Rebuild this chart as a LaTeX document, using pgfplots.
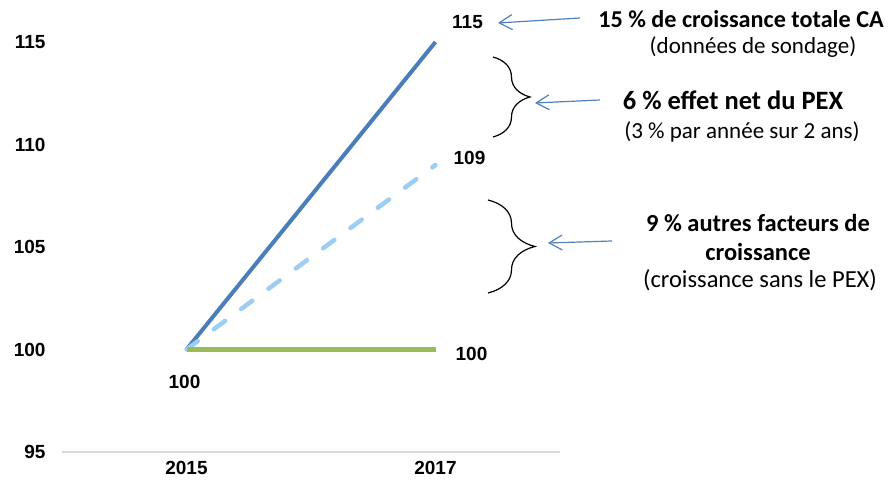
\documentclass[border=0pt]{standalone}
\usepackage{pgfplots}
\pgfplotsset{compat=1.18}
\usepackage{fontspec}
\setmainfont{Liberation Sans}
\newfontfamily\calib{Carlito}
\usetikzlibrary{arrows.meta,decorations.pathreplacing}
\definecolor{cblue}{HTML}{4A7EBB}
\definecolor{clight}{HTML}{9DCDF2}
\definecolor{cgreen}{HTML}{9BBB59}
\definecolor{carrow}{HTML}{4F81BD}
\definecolor{caxis}{HTML}{D9D9D9}
\begin{document}
\begin{tikzpicture}[x=1pt,y=1pt]
\path[use as bounding box] (0,0) rectangle (889,486);
\begin{axis}[
  at={(62pt,34pt)}, anchor=south west,
  scale only axis, width=498pt, height=410pt,
  xmin=-0.5, xmax=1.5, ymin=95, ymax=115,
  clip=false,
  axis x line*=bottom, axis y line*=left,
  y axis line style={draw=none},
  x axis line style={draw=caxis, line width=1.2pt},
  major tick length=0pt, tick style={draw=none},
  xtick={0,1}, xticklabels={2015,2017},
  ytick={95,100,105,110,115},
  /pgf/number format/assume math mode=true,
  tick label style={font=\fontsize{19}{22}\selectfont\bfseries},
  yticklabel style={xshift=-13pt},
  xticklabel style={yshift=-6pt},
]
\addplot[cblue, line width=4pt] coordinates {(0,100) (1,115)};
\addplot[clight, line width=4.5pt, line cap=round, dash pattern=on 14pt off 20pt] coordinates {(0,100) (1,109)};
\addplot[cgreen, line width=4.5pt] coordinates {(0,100) (1,100)};
\begin{scope}[font=\fontsize{19}{22}\selectfont\bfseries]
\node at (axis cs:1,115) [xshift=32pt, yshift=20pt] {115};
\node at (axis cs:1,109) [xshift=34pt, yshift=7pt] {109};
\node at (axis cs:1,100) [xshift=36pt, yshift=-4pt] {100};
\node at (axis cs:0,100) [xshift=-2pt, yshift=-32pt] {100};
\end{scope}
\end{axis}
\node[font=\calib\fontsize{24.2}{28}\selectfont\bfseries] at (741,467) {15 \% de croissance totale CA};
\node[font=\calib\fontsize{23}{26}\selectfont] at (753,439) {(données de sondage)};
\node[font=\calib\fontsize{26.5}{30}\selectfont\bfseries] at (733,386) {6 \% effet net du PEX};
\node[font=\calib\fontsize{23}{26}\selectfont] at (742,354) {(3 \% par année sur 2 ans)};
\node[font=\calib\fontsize{24.5}{28}\selectfont\bfseries] at (758,263) {9 \% autres facteurs de};
\node[font=\calib\fontsize{24.5}{28}\selectfont\bfseries] at (758,234) {croissance};
\node[font=\calib\fontsize{24.5}{28}\selectfont] at (760,206) {(croissance sans le PEX)};
\begin{scope}[carrow, line width=1.2pt, -{Straight Barb[length=13pt,width=15pt]}]
\draw (580,468) -- (498,463);
\draw (600,386) -- (535,383);
\draw (612,245) -- (548,243);
\end{scope}
\draw[line width=1.2pt, decorate, decoration={brace, amplitude=37pt}] (493,429) -- (493,349);
\draw[line width=1.2pt, decorate, decoration={brace, amplitude=47pt}] (488,286) -- (488,193);
\end{tikzpicture}
\end{document}
